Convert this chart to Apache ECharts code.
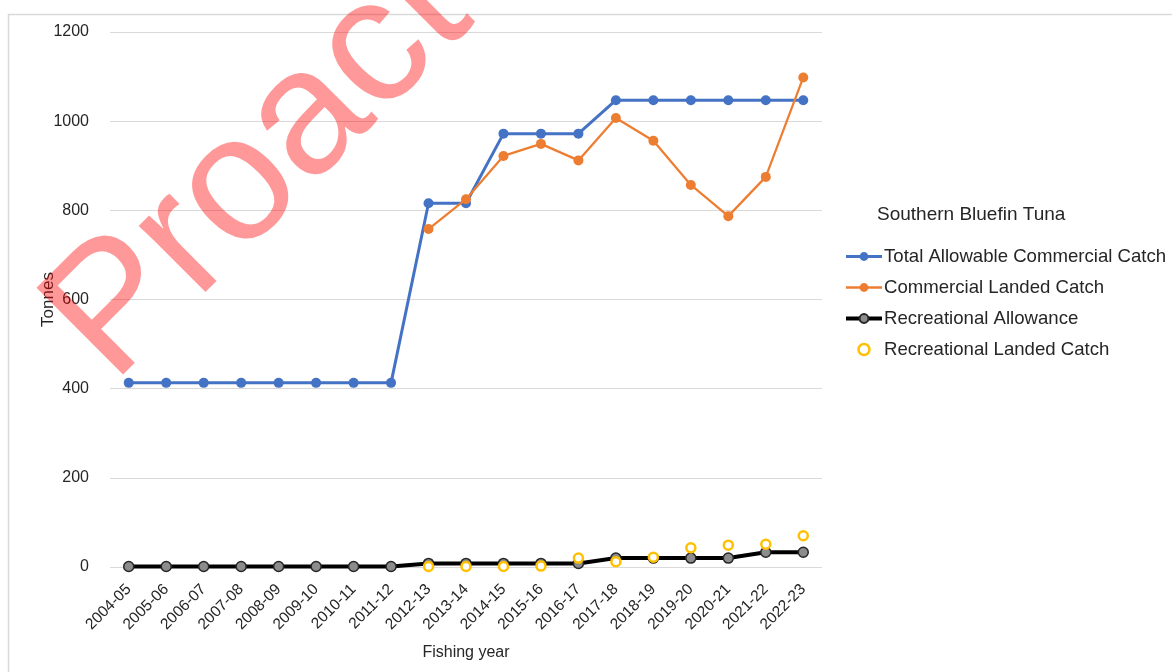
<!DOCTYPE html>
<html>
<head>
<meta charset="utf-8">
<script src="https://cdn.jsdelivr.net/npm/echarts@6/dist/echarts.min.js"></script>
<style>
  html, body { margin: 0; padding: 0; background: #ffffff; }
  #chart { width: 1172px; height: 672px; }
</style>
</head>
<body>
<div id="chart"></div>
<script>
// Fishing years (x axis)
var years = ['2004-05', '2005-06', '2006-07', '2007-08', '2008-09', '2009-10', '2010-11',
  '2011-12', '2012-13', '2013-14', '2014-15', '2015-16', '2016-17', '2017-18', '2018-19',
  '2019-20', '2020-21', '2021-22', '2022-23'];

// Tonnes per fishing year
var totalAllowableCommercialCatch = [413, 413, 413, 413, 413, 413, 413, 413, 816, 816,
  972, 972, 972, 1047, 1047, 1047, 1047, 1047, 1047];
var commercialLandedCatch = [null, null, null, null, null, null, null, null, 758, 825,
  922, 949, 912, 1007, 956, 857, 787, 875, 1098];
var recreationalAllowance = [1, 1, 1, 1, 1, 1, 1, 1, 8, 8, 8, 8, 8, 20, 20, 20, 20, 33, 33];
var recreationalLandedCatch = [null, null, null, null, null, null, null, null, 1, 1,
  1, 2, 20, 12, 22, 43, 49, 51, 70];

// Y axis scale
var yMin = 0, yMax = 1200, yStep = 200;

var FONT = 'Liberation Sans, Arial, sans-serif';
var TEXT = '#262626';

var chart = echarts.init(document.getElementById('chart'), null, { renderer: 'canvas' });

chart.setOption({
  animation: false,
  backgroundColor: '#ffffff',
  textStyle: { fontFamily: FONT },
  title: {
    text: 'Southern Bluefin Tuna',
    left: 872,
    top: 200,
    textStyle: { fontFamily: FONT, fontSize: 19, fontWeight: 'normal', color: TEXT }
  },
  legend: {
    orient: 'vertical',
    left: 839,
    top: 242,
    itemWidth: 36,
    itemHeight: 11,
    itemGap: 12,
    textStyle: { fontFamily: FONT, fontSize: 18.6, color: TEXT, padding: [0, 0, 0, -3] },
    data: [
      { name: 'Total Allowable Commercial Catch', lineStyle: { width: 3 } },
      { name: 'Commercial Landed Catch', lineStyle: { width: 2.5 } },
      { name: 'Recreational Allowance', lineStyle: { width: 4 } },
      { name: 'Recreational Landed Catch', itemStyle: { borderWidth: 2.5 } }
    ]
  },
  grid: { left: 110, top: 32, width: 712, height: 535, containLabel: false },
  xAxis: {
    type: 'category',
    data: years,
    boundaryGap: true,
    name: 'Fishing year',
    nameLocation: 'middle',
    nameGap: 78,
    nameMoveOverlap: false,
    nameTextStyle: { fontFamily: FONT, fontSize: 16, color: TEXT },
    axisLine: { show: false },
    axisTick: { show: false },
    axisLabel: { rotate: 45, margin: 20, fontFamily: FONT, fontSize: 15.5, color: TEXT, interval: 0 }
  },
  yAxis: {
    type: 'value',
    min: yMin,
    max: yMax,
    interval: yStep,
    name: 'Tonnes',
    nameLocation: 'middle',
    nameGap: 53,
    nameMoveOverlap: false,
    nameTextStyle: { fontFamily: FONT, fontSize: 17, color: TEXT },
    axisLine: { show: false },
    axisTick: { show: false },
    axisLabel: {
      margin: 21, fontFamily: FONT, fontSize: 16, color: TEXT,
      formatter: function (v) { return String(v); }
    },
    splitLine: { lineStyle: { color: '#d9d9d9', width: 1 } }
  },
  series: [
    {
      name: 'Total Allowable Commercial Catch',
      type: 'line',
      data: totalAllowableCommercialCatch,
      symbol: 'circle',
      symbolSize: 10,
      lineStyle: { color: '#4472C4', width: 3 },
      itemStyle: { color: '#4472C4' },
      z: 2
    },
    {
      name: 'Commercial Landed Catch',
      type: 'line',
      data: commercialLandedCatch,
      symbol: 'circle',
      symbolSize: 10,
      lineStyle: { color: '#ED7D31', width: 2.25 },
      itemStyle: { color: '#ED7D31' },
      z: 3
    },
    {
      name: 'Recreational Allowance',
      type: 'line',
      data: recreationalAllowance,
      symbol: 'circle',
      symbolSize: 10,
      lineStyle: { color: '#000000', width: 4 },
      itemStyle: { color: '#8c8c8c', borderColor: '#262626', borderWidth: 1.5 },
      z: 4
    },
    {
      name: 'Recreational Landed Catch',
      type: 'scatter',
      data: recreationalLandedCatch,
      symbol: 'circle',
      symbolSize: 9,
      itemStyle: { color: '#ffffff', borderColor: '#FFC000', borderWidth: 2.5, opacity: 1 },
      z: 5
    }
  ],
  graphic: [
    {
      // outer chart frame
      type: 'rect',
      z: 0,
      silent: true,
      shape: { x: 8.5, y: 14.5, width: 1200, height: 700 },
      style: { fill: 'none', stroke: '#d9d9d9', lineWidth: 1.5 }
    },
    {
      // diagonal watermark
      type: 'text',
      z: 100,
      silent: true,
      x: 78,
      y: 350,
      rotation: Math.PI / 4,
      style: {
        text: 'Proact',
        fontFamily: FONT,
        fontSize: 178,
        fill: 'rgba(255, 0, 0, 0.4)',
        textAlign: 'left',
        verticalAlign: 'middle'
      }
    }
  ]
});
</script>
</body>
</html>
